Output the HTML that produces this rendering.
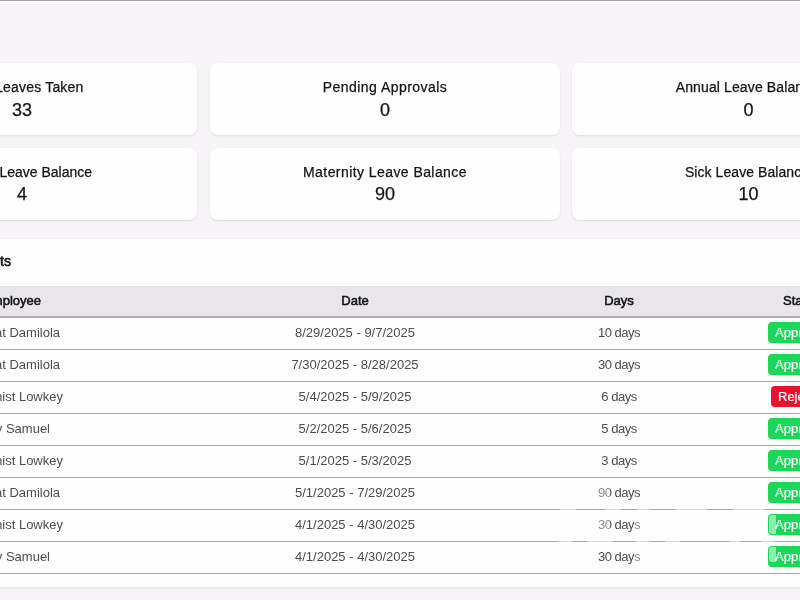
<!DOCTYPE html>
<html>
<head>
<meta charset="utf-8">
<style>
html,body{margin:0;padding:0;width:800px;height:600px;overflow:hidden;}
body{background:#f6f4f7;font-family:"Liberation Sans",sans-serif;position:relative;-webkit-font-smoothing:antialiased;}
.aa{position:absolute;left:0;top:0;width:800px;height:600px;will-change:transform;}
.topline{position:absolute;left:0;top:0;width:800px;height:1px;background:#a3a1a5;}
.topwhite{position:absolute;left:0;top:1px;width:800px;height:3px;background:linear-gradient(#ffffff,#f6f4f7);}
.card{position:absolute;background:#fefefe;border-radius:8px;box-shadow:0 1px 2px rgba(0,0,0,0.10);height:72px;width:350px;}
.card .lbl{position:absolute;left:0;right:0;top:15px;text-align:center;font-size:14px;line-height:16px;color:#141416;-webkit-text-stroke:0.25px #141416;letter-spacing:0.4px;white-space:nowrap;}
.card .val{position:absolute;left:0;right:0;top:36px;text-align:center;font-size:18px;line-height:20px;color:#141416;-webkit-text-stroke:0.25px #141416;white-space:nowrap;}
.panel{position:absolute;left:-153px;top:239px;width:1075px;height:348px;background:#fefefe;border-radius:8px;box-shadow:0 1px 3px rgba(0,0,0,0.08);}
.title{position:absolute;top:253px;right:789px;font-size:14px;line-height:16px;-webkit-text-stroke:0.55px #141414;color:#141414;white-space:nowrap;}
.thead{position:absolute;left:0;top:286px;width:800px;height:30px;background:#e8e6ea;border-bottom:2px solid #adabaf;}
.row{position:absolute;left:0;width:800px;height:31px;border-bottom:1px solid #aaa9ac;}
.th{position:absolute;top:293px;font-size:13px;line-height:15px;-webkit-text-stroke:0.55px #141414;color:#141414;white-space:nowrap;}
.td{position:absolute;font-size:13px;line-height:15px;color:#4d4d4f;white-space:nowrap;}
.c{transform:translateX(-50%);}
.badge{position:absolute;height:21px;border-radius:4px;color:#fff;-webkit-text-stroke:0.2px #fff;font-size:13px;line-height:21px;padding:0 7px;white-space:nowrap;}
.ok{background:#1cd858;}
.art{position:absolute;background:rgba(255,255,255,0.55);}
.mint{position:absolute;background:rgba(255,255,255,0.5);border-radius:3px 0 0 3px;}
.fade{position:absolute;background:rgba(255,255,255,0.35);}
.no{background:#e8112f;}
</style>
</head>
<body>
<div class="aa">
<div class="topline"></div>
<div class="topwhite"></div>

<div class="card" style="left:-153px;top:63px;"><div class="lbl" style="top:16px;letter-spacing:0.19px">Total Leaves Taken</div><div class="val" style="top:37px">33</div></div>
<div class="card" style="left:210px;top:63px;"><div class="lbl" style="top:16px;letter-spacing:0.45px">Pending Approvals</div><div class="val" style="top:37px">0</div></div>
<div class="card" style="left:572px;top:63px;"><div class="lbl" style="top:16px;letter-spacing:0.12px">Annual Leave Balance</div><div class="val" style="top:37px;left:2px;right:-1px">0</div></div>
<div class="card" style="left:-153px;top:148px;"><div class="lbl" style="top:16px;letter-spacing:0px">Casual Leave Balance</div><div class="val">4</div></div>
<div class="card" style="left:210px;top:148px;"><div class="lbl" style="top:16px;letter-spacing:0.43px">Maternity Leave Balance</div><div class="val">90</div></div>
<div class="card" style="left:572px;top:148px;"><div class="lbl" style="top:16px;letter-spacing:0.07px">Sick Leave Balance</div><div class="val" style="left:2px;right:-1px">10</div></div>

<div class="panel"></div>
<div class="title">Recent Leave Requests</div>

<div class="thead"></div>
<div class="th" style="right:759px;">Employee</div>
<div class="th c" style="left:355px;">Date</div>
<div class="th c" style="left:619px;">Days</div>
<div class="th" style="left:783px;">Status</div>

<div class="row" style="top:318px;"></div>
<div class="row" style="top:350px;"></div>
<div class="row" style="top:382px;"></div>
<div class="row" style="top:414px;"></div>
<div class="row" style="top:446px;"></div>
<div class="row" style="top:478px;"></div>
<div class="row" style="top:510px;"></div>
<div class="row" style="top:542px;"></div>

<div class="td" style="top:325px;right:740px;">Rahmat Damilola</div>
<div class="td c" style="top:325px;left:355px;">8/29/2025 - 9/7/2025</div>
<div class="td c" style="top:325px;left:619px;letter-spacing:-0.5px;">10 days</div>
<div class="badge ok" style="top:322px;left:768px;">Approved</div>

<div class="td" style="top:357px;right:740px;">Rahmat Damilola</div>
<div class="td c" style="top:357px;left:355px;">7/30/2025 - 8/28/2025</div>
<div class="td c" style="top:357px;left:619px;letter-spacing:-0.5px;">30 days</div>
<div class="badge ok" style="top:354px;left:768px;">Approved</div>

<div class="td" style="top:389px;right:737px;">Alchemist Lowkey</div>
<div class="td c" style="top:389px;left:355px;">5/4/2025 - 5/9/2025</div>
<div class="td c" style="top:389px;left:619px;letter-spacing:-0.5px;">6 days</div>
<div class="badge no" style="top:386px;left:771px;">Rejected</div>

<div class="td" style="top:421px;right:750px;">Tommy Samuel</div>
<div class="td c" style="top:421px;left:355px;">5/2/2025 - 5/6/2025</div>
<div class="td c" style="top:421px;left:619px;letter-spacing:-0.5px;">5 days</div>
<div class="badge ok" style="top:418px;left:768px;">Approved</div>

<div class="td" style="top:453px;right:737px;">Alchemist Lowkey</div>
<div class="td c" style="top:453px;left:355px;">5/1/2025 - 5/3/2025</div>
<div class="td c" style="top:453px;left:619px;letter-spacing:-0.5px;">3 days</div>
<div class="badge ok" style="top:450px;left:768px;">Approved</div>

<div class="td" style="top:485px;right:740px;">Rahmat Damilola</div>
<div class="td c" style="top:485px;left:355px;">5/1/2025 - 7/29/2025</div>
<div class="td c" style="top:485px;left:619px;letter-spacing:-0.5px;">90 days</div>
<div class="badge ok" style="top:482px;left:768px;">Approved</div>

<div class="td" style="top:517px;right:737px;">Alchemist Lowkey</div>
<div class="td c" style="top:517px;left:355px;">4/1/2025 - 4/30/2025</div>
<div class="td c" style="top:517px;left:619px;letter-spacing:-0.5px;">30 days</div>
<div class="badge ok" style="top:514px;left:768px;">Approved</div>

<div class="td" style="top:549px;right:750px;">Tommy Samuel</div>
<div class="td c" style="top:549px;left:355px;">4/1/2025 - 4/30/2025</div>
<div class="td c" style="top:549px;left:619px;letter-spacing:-0.5px;">30 days</div>
<div class="badge ok" style="top:546px;left:768px;">Approved</div>

<div class="art" style="left:559.5px;top:508px;width:16.5px;height:3px;"></div>
<div class="art" style="left:605px;top:508px;width:16px;height:3px;"></div>
<div class="art" style="left:637px;top:508px;width:13px;height:3px;"></div>
<div class="art" style="left:676px;top:508px;width:31px;height:3px;"></div>
<div class="art" style="left:733px;top:508px;width:31px;height:3px;"></div>
<div class="art" style="left:558px;top:540px;width:14px;height:3px;"></div>
<div class="art" style="left:587px;top:540px;width:26px;height:3px;"></div>
<div class="art" style="left:636px;top:540px;width:14px;height:3px;"></div>
<div class="art" style="left:665px;top:540px;width:15px;height:3px;"></div>
<div class="art" style="left:730px;top:540px;width:10px;height:3px;"></div>
<div class="art" style="left:761px;top:540px;width:13px;height:3px;"></div>
<div class="mint" style="left:769px;top:515px;width:7px;height:19px;"></div>
<div class="mint" style="left:769px;top:547px;width:7px;height:15px;"></div>
<div class="fade" style="left:596px;top:486px;width:14px;height:13px;"></div>
<div class="fade" style="left:596px;top:518px;width:14px;height:13px;"></div>
<div class="fade" style="left:634px;top:518px;width:7px;height:13px;"></div>
<div class="fade" style="left:634px;top:550px;width:7px;height:13px;"></div>
</div>
</body>
</html>
